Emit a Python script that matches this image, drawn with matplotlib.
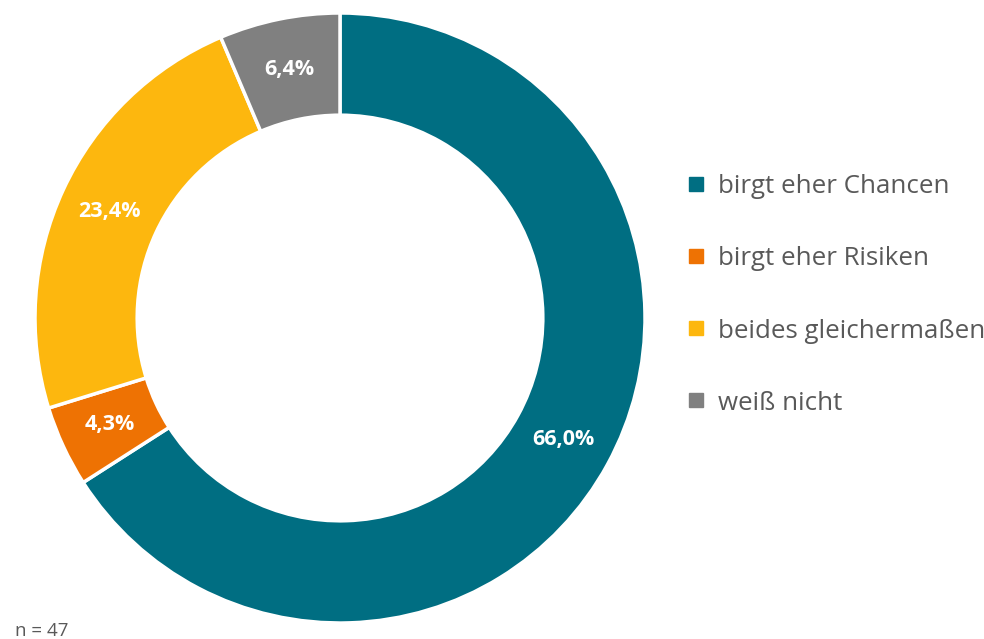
import numpy as np
import matplotlib.pyplot as plt
from matplotlib.lines import Line2D

# Anteile in Prozent (n = 47)
categories = ['birgt eher Chancen', 'birgt eher Risiken', 'beides gleichermaßen', 'weiß nicht']
shares = [66.0, 4.3, 23.4, 6.4]
value_labels = ['66,0%', '4,3%', '23,4%', '6,4%']
colors = ['#006E82', '#EE7203', '#FDB70E', '#808080']

plt.rcParams['font.family'] = ['Open Sans', 'DejaVu Sans']

fig = plt.figure(figsize=(9.84, 6.39), dpi=100)
ax = fig.add_axes([35 / 984, 16 / 639, 610 / 984, 610 / 639])

wedges, _ = ax.pie(shares, colors=colors, startangle=90, counterclock=False,
                   radius=1.0,
                   wedgeprops=dict(width=0.335, edgecolor='white', linewidth=2.5))

# value labels in the middle of the ring
r_lab = 0.833
for w, lab in zip(wedges, value_labels):
    ang = np.deg2rad((w.theta1 + w.theta2) / 2)
    ax.text(r_lab * np.cos(ang), r_lab * np.sin(ang), lab, ha='center', va='center',
            color='white', fontsize=15.5, fontweight='bold')
ax.set_aspect('equal')
ax.set_xlim(-1, 1)
ax.set_ylim(-1, 1)

handles = [Line2D([0], [0], marker='s', linestyle='none', markersize=9.5,
                  markerfacecolor=c, markeredgecolor=c) for c in colors]
leg = fig.legend(handles, categories, loc='center left', bbox_to_anchor=(688 / 984, 1 - 295 / 639),
                 frameon=False, fontsize=18.6, labelspacing=1.82, handlelength=0.6,
                 handletextpad=0.55, borderaxespad=0, borderpad=0)
for t in leg.get_texts():
    t.set_color('#595959')

fig.text(15 / 984, 3 / 639, 'n = 47', fontsize=13.5, color='#595959', ha='left', va='baseline')

fig.savefig('out.png', dpi=100)
